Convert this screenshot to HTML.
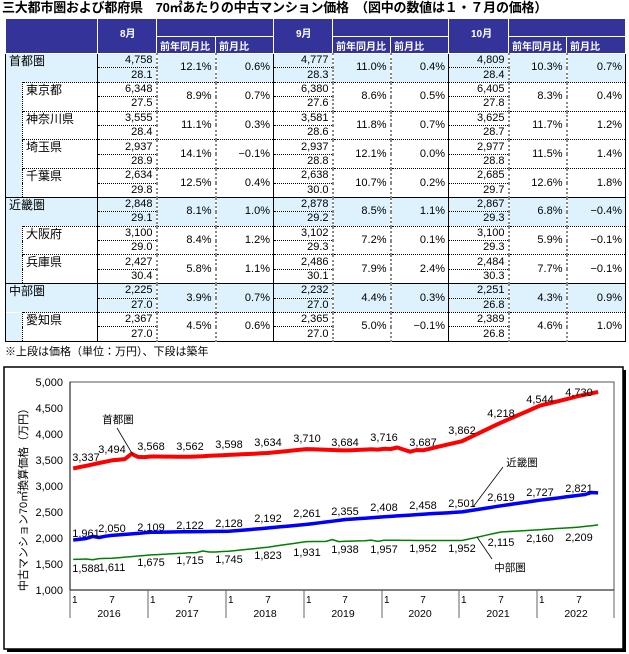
<!DOCTYPE html>
<html><head><meta charset="utf-8">
<style>
body{margin:0;width:629px;height:654px;background:#fff;position:relative;overflow:hidden;font-family:"Liberation Sans","Noto Sans CJK JP",sans-serif}
#title{position:absolute;left:2px;top:0px;font-size:13px;font-weight:bold;white-space:nowrap;line-height:16px;letter-spacing:-0.2px}
#foot{position:absolute;left:5px;top:344px;font-size:11px;line-height:16px;white-space:nowrap}
table{position:absolute;left:5px;top:18px;border-collapse:collapse;table-layout:fixed;font-size:11px;border:1.5px solid #000}
td{padding:0 3px 0 2px;height:13.4px;line-height:13px;white-space:nowrap;overflow:hidden;text-align:right;vertical-align:middle}
th{background:#333399;color:#fff;font-size:10px;font-weight:bold;border:1px solid #fff;padding:0;text-align:left;vertical-align:bottom}
tr.h1 th{height:17px}
tr.h2 th{height:16px;padding-left:3px}
th.m{vertical-align:top;padding:6px 0 0 22px;text-align:left}
.g td{background:#ddf2fc}
.g td{border-top:1px solid #000}
.p td{border-top:1px dotted #000}
.p td.s{border-top:none;background:#ddf2fc;border-right:1px dotted #000}
td.n{text-align:left;vertical-align:top;font-size:12px;padding-left:3px;line-height:15px}
td.a{border-left:1px solid #000;border-bottom:1px dotted #000}
td.b{border-left:1px solid #000;border-top:none!important}
td.y{border-left:2px dotted #888}
td.mm{border-left:2px dotted #888;border-right:1px solid #000}
.p td.q{background:#fff}
svg{position:absolute;left:0;top:0}
</style></head><body>
<svg width="629" height="654" viewBox="0 0 629 654" font-family="Liberation Sans, Noto Sans CJK JP, sans-serif" font-size="11">
<rect x="7" y="370" width="619" height="282" fill="#000"/>
<rect x="4" y="367" width="619" height="282" fill="#fff" stroke="#000" stroke-width="1.5"/>
<rect x="70" y="382" width="544" height="208" fill="none" stroke="#555" stroke-width="1"/>
<line x1="70" y1="382" x2="70" y2="590" stroke="#000"/>
<line x1="70" y1="590" x2="614" y2="590" stroke="#000"/>
<g stroke="#666" stroke-width="1">
<line x1="70" y1="590" x2="70" y2="618"/><line x1="148" y1="590" x2="148" y2="618"/><line x1="226" y1="590" x2="226" y2="618"/><line x1="304" y1="590" x2="304" y2="618"/><line x1="382" y1="590" x2="382" y2="618"/><line x1="459" y1="590" x2="459" y2="618"/><line x1="537" y1="590" x2="537" y2="618"/><line x1="614" y1="590" x2="614" y2="618"/>
</g>
<g text-anchor="end">
<text x="63" y="386">5,000</text><text x="63" y="412">4,500</text><text x="63" y="438">4,000</text><text x="63" y="464">3,500</text><text x="63" y="490">3,000</text><text x="63" y="516">2,500</text><text x="63" y="542">2,000</text><text x="63" y="568">1,500</text><text x="63" y="594">1,000</text>
</g>
<text transform="translate(27,497) rotate(-90)" text-anchor="middle" font-size="11">中古マンション70㎡換算価格（万円）</text>
<g font-size="10">
<text x="72" y="603">1</text><text x="112" y="603" text-anchor="middle">7</text>
<text x="150" y="603">1</text><text x="190" y="603" text-anchor="middle">7</text>
<text x="228" y="603">1</text><text x="268" y="603" text-anchor="middle">7</text>
<text x="306" y="603">1</text><text x="345" y="603" text-anchor="middle">7</text>
<text x="384" y="603">1</text><text x="423" y="603" text-anchor="middle">7</text>
<text x="461" y="603">1</text><text x="501" y="603" text-anchor="middle">7</text>
<text x="539" y="603">1</text><text x="579" y="603" text-anchor="middle">7</text>
</g>
<g text-anchor="middle" font-size="10.5">
<text x="109" y="617">2016</text><text x="187" y="617">2017</text><text x="265" y="617">2018</text><text x="343" y="617">2019</text><text x="420" y="617">2020</text><text x="498" y="617">2021</text><text x="576" y="617">2022</text>
</g>
<polyline id="red" fill="none" stroke="#ff0000" stroke-width="4" stroke-linejoin="round"/>
<polyline id="blue" fill="none" stroke="#0000ff" stroke-width="3.5" stroke-linejoin="round"/>
<polyline id="green" fill="none" stroke="#008000" stroke-width="1.5" stroke-linejoin="round"/>
<g text-anchor="middle">
<text x="86" y="461">3,337</text><text x="112" y="453">3,494</text><text x="151" y="450">3,568</text><text x="190" y="450">3,562</text><text x="229" y="448">3,598</text><text x="268" y="446">3,634</text><text x="307" y="442">3,710</text><text x="345" y="446">3,684</text><text x="384" y="441">3,716</text><text x="423" y="446">3,687</text><text x="462" y="434">3,862</text><text x="501" y="417">4,218</text><text x="540" y="403">4,544</text><text x="579" y="396">4,730</text>
<text x="86" y="537">1,961</text><text x="112" y="532">2,050</text><text x="151" y="531">2,109</text><text x="190" y="529">2,122</text><text x="229" y="527">2,128</text><text x="268" y="522">2,192</text><text x="307" y="517">2,261</text><text x="345" y="515">2,355</text><text x="384" y="511">2,408</text><text x="423" y="509">2,458</text><text x="462" y="507">2,501</text><text x="501" y="501">2,619</text><text x="540" y="496">2,727</text><text x="579" y="492">2,821</text>
<text x="86" y="572">1,588</text><text x="112" y="571">1,611</text><text x="151" y="566">1,675</text><text x="190" y="564">1,715</text><text x="229" y="563">1,745</text><text x="268" y="559">1,823</text><text x="307" y="556">1,931</text><text x="345" y="553">1,938</text><text x="384" y="553">1,957</text><text x="423" y="552">1,952</text><text x="462" y="552">1,952</text><text x="501" y="546">2,115</text><text x="540" y="542">2,160</text><text x="579" y="541">2,209</text>
</g>
<text x="118" y="423" text-anchor="middle" font-size="10.5">首都圏</text>
<line x1="117" y1="428" x2="133" y2="455" stroke="#000" stroke-width="0.8"/>
<text x="522" y="466" text-anchor="middle" font-size="10.5">近畿圏</text>
<line x1="503" y1="467" x2="473" y2="507" stroke="#000" stroke-width="0.8"/>
<text x="510" y="571" text-anchor="middle" font-size="10.5">中部圏</text>
<line x1="477" y1="537" x2="492" y2="559" stroke="#000" stroke-width="0.8"/>
</svg>
<script>
(function(){
function X(i){return 73.2+6.48*i}
function Y(v){return 590-(v-1000)*0.052}
function build(anch,end,bumps){
 var v=[];for(var k=0;k<anch.length-1;k++){for(var j=0;j<6;j++){v.push(anch[k]+(anch[k+1]-anch[k])*j/6)}}
 var last=anch[anch.length-1];v.push(last);
 for(var j=1;j<=3;j++)v.push(last+(end-last)*j/3);
 for(var b in bumps)v[+b]=bumps[b];
 return v.map(function(a,i){return X(i).toFixed(1)+","+Y(a).toFixed(1)}).join(" ");
}
document.getElementById("red").setAttribute("points",build([3337,3494,3568,3562,3598,3634,3710,3684,3716,3687,3862,4218,4544,4730],4809,{9:3620,10:3560,47:3700,50:3740,51:3700,52:3660}));
document.getElementById("blue").setAttribute("points",build([1961,2050,2109,2122,2128,2192,2261,2355,2408,2458,2501,2619,2727,2821],2867,{3:2030,4:2010,80:2875}));
document.getElementById("green").setAttribute("points",build([1588,1611,1675,1715,1745,1823,1931,1938,1957,1952,1952,2115,2160,2209],2251,{3:1580,20:1750,22:1730,40:1970,41:1930,46:1960,47:1935}));
})();
</script>
<div id="title">三大都市圏および都府県　70㎡あたりの中古マンション価格　（図中の数値は１・７月の価格）</div>
<table>
<colgroup><col style="width:17px"><col style="width:75px"><col style="width:59px"><col style="width:59px"><col style="width:58px"><col style="width:59px"><col style="width:58px"><col style="width:58px"><col style="width:60px"><col style="width:58px"><col style="width:59px"></colgroup>
<tr class="h1"><th colspan="2" rowspan="2"></th><th rowspan="2" class="m">8月</th><th colspan="2"></th><th rowspan="2" class="m">9月</th><th colspan="2"></th><th rowspan="2" class="m">10月</th><th colspan="2"></th></tr>
<tr class="h2"><th>前年同月比</th><th>前月比</th><th>前年同月比</th><th>前月比</th><th>前年同月比</th><th>前月比</th></tr>

<tr class="g"><td class="n" colspan="2" rowspan="2">首都圏</td><td class="a">4,758</td><td class="y" rowspan="2">12.1%</td><td class="mm" rowspan="2">0.6%</td><td class="a">4,777</td><td class="y" rowspan="2">11.0%</td><td class="mm" rowspan="2">0.4%</td><td class="a">4,809</td><td class="y" rowspan="2">10.3%</td><td class="mm" rowspan="2">0.7%</td></tr>
<tr class="g"><td class="b">28.1</td><td class="b">28.3</td><td class="b">28.4</td></tr>

<tr class="p"><td class="s" rowspan="2"></td><td class="n q" rowspan="2">東京都</td><td class="a q">6,348</td><td class="y q" rowspan="2">8.9%</td><td class="mm q" rowspan="2">0.7%</td><td class="a q">6,380</td><td class="y q" rowspan="2">8.6%</td><td class="mm q" rowspan="2">0.5%</td><td class="a q">6,405</td><td class="y q" rowspan="2">8.3%</td><td class="mm q" rowspan="2">0.4%</td></tr>
<tr class="p"><td class="b q">27.5</td><td class="b q">27.6</td><td class="b q">27.8</td></tr>

<tr class="p"><td class="s" rowspan="2"></td><td class="n q" rowspan="2">神奈川県</td><td class="a q">3,555</td><td class="y q" rowspan="2">11.1%</td><td class="mm q" rowspan="2">0.3%</td><td class="a q">3,581</td><td class="y q" rowspan="2">11.8%</td><td class="mm q" rowspan="2">0.7%</td><td class="a q">3,625</td><td class="y q" rowspan="2">11.7%</td><td class="mm q" rowspan="2">1.2%</td></tr>
<tr class="p"><td class="b q">28.4</td><td class="b q">28.6</td><td class="b q">28.7</td></tr>

<tr class="p"><td class="s" rowspan="2"></td><td class="n q" rowspan="2">埼玉県</td><td class="a q">2,937</td><td class="y q" rowspan="2">14.1%</td><td class="mm q" rowspan="2">−0.1%</td><td class="a q">2,937</td><td class="y q" rowspan="2">12.1%</td><td class="mm q" rowspan="2">0.0%</td><td class="a q">2,977</td><td class="y q" rowspan="2">11.5%</td><td class="mm q" rowspan="2">1.4%</td></tr>
<tr class="p"><td class="b q">28.9</td><td class="b q">28.8</td><td class="b q">28.8</td></tr>

<tr class="p"><td class="s" rowspan="2"></td><td class="n q" rowspan="2">千葉県</td><td class="a q">2,634</td><td class="y q" rowspan="2">12.5%</td><td class="mm q" rowspan="2">0.4%</td><td class="a q">2,638</td><td class="y q" rowspan="2">10.7%</td><td class="mm q" rowspan="2">0.2%</td><td class="a q">2,685</td><td class="y q" rowspan="2">12.6%</td><td class="mm q" rowspan="2">1.8%</td></tr>
<tr class="p"><td class="b q">29.8</td><td class="b q">30.0</td><td class="b q">29.7</td></tr>

<tr class="g"><td class="n" colspan="2" rowspan="2">近畿圏</td><td class="a">2,848</td><td class="y" rowspan="2">8.1%</td><td class="mm" rowspan="2">1.0%</td><td class="a">2,878</td><td class="y" rowspan="2">8.5%</td><td class="mm" rowspan="2">1.1%</td><td class="a">2,867</td><td class="y" rowspan="2">6.8%</td><td class="mm" rowspan="2">−0.4%</td></tr>
<tr class="g"><td class="b">29.1</td><td class="b">29.2</td><td class="b">29.3</td></tr>

<tr class="p"><td class="s" rowspan="2"></td><td class="n q" rowspan="2">大阪府</td><td class="a q">3,100</td><td class="y q" rowspan="2">8.4%</td><td class="mm q" rowspan="2">1.2%</td><td class="a q">3,102</td><td class="y q" rowspan="2">7.2%</td><td class="mm q" rowspan="2">0.1%</td><td class="a q">3,100</td><td class="y q" rowspan="2">5.9%</td><td class="mm q" rowspan="2">−0.1%</td></tr>
<tr class="p"><td class="b q">29.0</td><td class="b q">29.3</td><td class="b q">29.3</td></tr>

<tr class="p"><td class="s" rowspan="2"></td><td class="n q" rowspan="2">兵庫県</td><td class="a q">2,427</td><td class="y q" rowspan="2">5.8%</td><td class="mm q" rowspan="2">1.1%</td><td class="a q">2,486</td><td class="y q" rowspan="2">7.9%</td><td class="mm q" rowspan="2">2.4%</td><td class="a q">2,484</td><td class="y q" rowspan="2">7.7%</td><td class="mm q" rowspan="2">−0.1%</td></tr>
<tr class="p"><td class="b q">30.4</td><td class="b q">30.1</td><td class="b q">30.3</td></tr>

<tr class="g"><td class="n" colspan="2" rowspan="2">中部圏</td><td class="a">2,225</td><td class="y" rowspan="2">3.9%</td><td class="mm" rowspan="2">0.7%</td><td class="a">2,232</td><td class="y" rowspan="2">4.4%</td><td class="mm" rowspan="2">0.3%</td><td class="a">2,251</td><td class="y" rowspan="2">4.3%</td><td class="mm" rowspan="2">0.9%</td></tr>
<tr class="g"><td class="b">27.0</td><td class="b">27.0</td><td class="b">26.8</td></tr>

<tr class="p"><td class="s" rowspan="2"></td><td class="n q" rowspan="2">愛知県</td><td class="a q">2,367</td><td class="y q" rowspan="2">4.5%</td><td class="mm q" rowspan="2">0.6%</td><td class="a q">2,365</td><td class="y q" rowspan="2">5.0%</td><td class="mm q" rowspan="2">−0.1%</td><td class="a q">2,389</td><td class="y q" rowspan="2">4.6%</td><td class="mm q" rowspan="2">1.0%</td></tr>
<tr class="p"><td class="b q">27.0</td><td class="b q">27.0</td><td class="b q">26.8</td></tr>
</table>
<div id="foot">※上段は価格（単位：万円）、下段は築年</div>
</body></html>
